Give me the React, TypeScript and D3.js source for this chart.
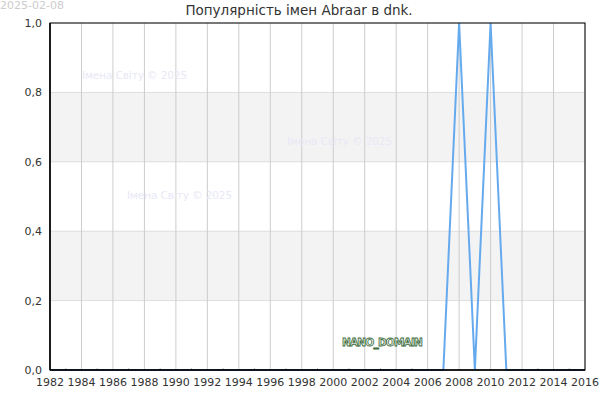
import React from "react";
import * as d3 from "d3";

const years: number[] = d3.range(1982, 2017);
const valueYears = [2008, 2010];
const values: number[] = years.map((y) => (valueYears.includes(y) ? 1 : 0));
const yTicks = [0, 0.2, 0.4, 0.6, 0.8, 1.0];
const xTickYears = d3.range(1982, 2017, 2);
const minorYears = d3.range(1983, 2016, 2);
const bands: [number, number][] = [[0.2, 0.4], [0.6, 0.8]];
const watermarks: [number, number][] = [[82, 79], [287, 145], [127, 199]];

const W = 600, H = 400;
const m = { left: 50, right: 15, top: 23, bottom: 30 };

export default function App() {
  const x = d3.scaleLinear().domain([1982, 2016]).range([m.left, W - m.right]);
  const y = d3.scaleLinear().domain([0, 1]).range([H - m.bottom, m.top]);
  const line = d3.line<number>().x((_, i) => x(years[i])).y((d) => y(d));
  const font = "DejaVu Sans, sans-serif";
  return (
    <svg width={W} height={H} style={{ position: "absolute", left: 0, top: 0 }} fontFamily={font}>
      <rect x={0} y={0} width={W} height={H} fill="#fff" />
      {bands.map(([a, b], i) => (
        <rect key={i} x={x(1982)} y={y(b)} width={x(2016) - x(1982)} height={y(a) - y(b)} fill="#f3f3f3" />
      ))}
      {yTicks.map((t) => (
        <line key={t} x1={x(1982)} x2={x(2016)} y1={y(t)} y2={y(t)} stroke="#dddddd" strokeWidth={1} />
      ))}
      {xTickYears.map((t) => (
        <line key={t} x1={x(t)} x2={x(t)} y1={y(0)} y2={y(1)} stroke="#cccccc" strokeWidth={1} />
      ))}
      {minorYears.map((t) => (
        <line key={t} x1={x(t)} x2={x(t)} y1={y(0)} y2={y(0) - 2} stroke="#bbb" strokeWidth={1} />
      ))}
      {watermarks.map(([wx, wy], i) => (
        <text key={i} x={wx} y={wy} fontSize={10.5} fill="#e8e8f6" letterSpacing={-0.1}>Імена Світу © 2025</text>
      ))}
      <text x={382} y={346} fontSize={10.5} textAnchor="middle" fill="#e8efe8" stroke="#3d6b3d" strokeWidth={0.8} fontWeight="bold" letterSpacing={-0.8}>NANO_DOMAIN</text>
      <path d={line(values) ?? ""} fill="none" stroke="#66aaee" strokeWidth={2} />
      <rect x={x(1982)} y={y(1)} width={x(2016) - x(1982)} height={y(0) - y(1)} fill="none" stroke="#000" strokeWidth={1} />
      <line x1={x(1982)} x2={x(1982)} y1={y(1)} y2={y(0)} stroke="#000" strokeWidth={1.5} />
      <line x1={x(1982)} x2={x(2016)} y1={y(0)} y2={y(0)} stroke="#000" strokeWidth={1.5} />
      {yTicks.map((t) => (
        <text key={t} x={42} y={y(t) + 4} fontSize={11} textAnchor="end" fill="#333">{d3.format(".1f")(t).replace(".", ",")}</text>
      ))}
      {xTickYears.map((t) => (
        <text key={t} x={x(t)} y={y(0) + 16} fontSize={11} textAnchor="middle" fill="#333">{t}</text>
      ))}
      <text x={299} y={15} fontSize={13.5} textAnchor="middle" fill="#333">Популярність імен Abraar в dnk.</text>
      <text x={0} y={9} fontSize={11} fill="#cccccc">2025-02-08</text>
    </svg>
  );
}
